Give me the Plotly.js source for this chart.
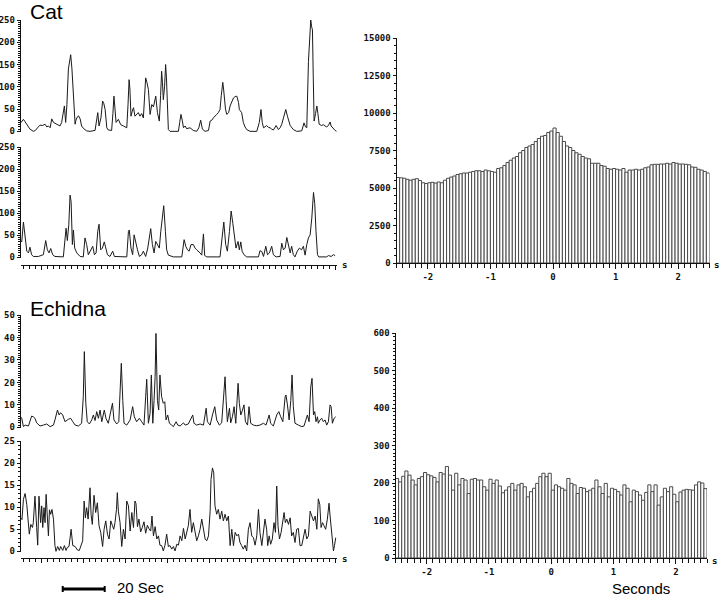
<!DOCTYPE html>
<html><head><meta charset="utf-8">
<script src="https://cdn.plot.ly/plotly-3.0.1.min.js"></script>
<style>html,body{margin:0;padding:0;background:#fff}#chart{width:720px;height:596px}</style>
</head><body><div id="chart"></div>
<script>
// ---------- DATA ----------
// Time series: time in seconds, value in spikes/bin
const catTopT = [0,0.6,1.3,2,2.9,3.6,4.4,6,7,8.4,9.2,10.4,11.6,12.4,13.2,14,14.8,15.6,16.6,17.9,18.7,19.5,20.3,20.8,21.4,22,22.7,23.3,23.8,24.4,25.1,25.9,26.3,26.7,27.5,28.3,29,30,31.4,33,35.4,36.2,36.7,37.3,38.2,39,39.6,40.2,41,41.7,43.3,43.9,44.4,44.9,45.4,46.5,47.6,48.9,50.5,51.1,51.6,52,52.5,53.1,53.7,54.4,55.2,56,56.8,57.6,58.4,59,59.5,60.1,60.8,61.6,62.4,63.2,64.3,65.1,66,66.6,67.1,67.5,67.9,68.5,69,69.4,69.8,70.3,71.1,75.1,75.7,76.3,76.9,77.5,78.3,79,80.6,82.2,83.8,84.8,85.7,86.5,87.8,89.4,90.2,91,91.7,92.5,93.3,94.1,94.9,95.5,96.2,96.6,97,97.5,98.1,99,99.7,100.5,101.3,102.1,102.9,103.7,104.1,105.2,106,106.8,107.6,109.2,112.4,113.6,114.4,115,115.6,116.3,117.1,117.9,118.7,119.5,120.3,121.6,122.7,123.5,124.3,125.1,126.2,127,127.7,128.3,129.8,131.4,133.8,134.9,135.6,136.2,137,137.6,138.1,138.5,138.9,139.3,139.7,140.4,141,141.5,142.1,143.3,144.1,144.9,145.7,146.5,147.3,147.8,148.4,149,149.7,150.4];
const catTopV = [19,24,27,22,16,12,5,0,2,10,14,13,16,10,12,8,28,20,17,15,12,20,45,57,20,60,140,165,172,140,71,16,25,30,35,28,12,6,1,0,2,30,42,12,30,68,62,49,8,3,2,40,79,50,20,27,15,12,8,60,116,95,34,45,53,34,38,42,34,40,30,80,120,110,94,38,60,55,79,42,23,80,135,110,71,100,150,120,40,4,0,0,20,38,25,8,12,6,8,2,0,8,25,5,0,2,23,25,30,35,38,42,49,80,110,95,70,50,38,42,57,68,75,78,79,65,49,42,20,10,4,0,0,20,49,20,8,10,13,9,8,5,3,13,4,8,16,30,49,34,25,13,4,0,1,19,10,8,157,215,250,235,228,120,23,40,57,40,16,13,15,12,10,13,21,12,8,5,2,0];

const catBotT = [0,0.5,1.3,2.1,2.9,3.7,4.4,5.2,6,8.4,10.8,11.9,12.7,13.5,14.3,15.2,16.3,20.3,21.1,21.6,22.2,22.9,23.5,24,24.6,25.1,25.7,26.7,28.3,29.8,30.6,31.4,32.2,33.3,34.3,35.1,35.9,36.7,37.3,38.1,38.9,39.8,40.6,41.3,42.5,43.8,44.6,50.5,51.3,51.7,52.5,53.3,54,54.6,55.6,56.5,57.6,58.4,59.5,60.5,61.3,61.9,62.7,63.5,64.3,65.1,66,66.7,67.5,68.1,68.9,69.5,70.3,72.7,76.7,77.1,77.8,78.6,79.4,80.2,81.1,82.2,83,83.8,84.6,85.4,86.2,87,87.6,88.6,94.9,95.7,96.7,97.6,98.4,99.4,100.2,101,101.9,102.5,103.5,104.1,104.8,105.4,106.3,107.6,113.2,113.9,114.8,115.6,116.7,117.5,118.4,119.5,120.3,121.6,123.5,124.3,125.1,125.9,126.7,127.5,128.3,129,129.8,130.6,131.7,132.7,133.7,134.6,135.4,136.2,137,137.8,138.6,139.4,140,140.6,141.3,141.9,145.7,146.5,147.8,148.9,149.7];
const catBotV = [38,35,80,51,14,10,23,6,2,2,6,38,17,10,20,6,2,1,47,66,38,74,141,126,29,62,21,10,2,1,44,29,6,17,25,6,10,59,75,17,21,35,17,6,2,14,2,1,59,62,21,6,51,36,17,2,6,14,2,21,44,65,29,10,36,29,21,59,96,117,59,17,5,1,1,21,40,25,17,14,29,29,21,17,14,10,5,53,4,1,1,36,80,29,14,59,105,77,44,21,36,17,35,14,6,1,1,15,13,2,25,6,10,25,6,1,2,32,17,21,45,29,10,25,6,1,14,21,17,25,5,29,44,51,89,147,122,59,6,1,1,4,2,6,4];

const echTopT = [0,0.5,1.3,2.1,3.7,5.2,6,6.8,7.6,9.2,10.8,12.4,14,15.6,16.3,17.5,18.3,19,20,21.1,22.7,23.8,24.8,25.9,27.5,29,29.8,30.3,31,31.7,32.7,33.8,34.6,35.4,36.2,37,37.8,38.6,39.8,40.6,41.7,42.5,43.7,44.4,45.7,46.7,47.3,47.9,48.6,49.2,50.5,52.1,53.3,54.1,55.2,56.5,57.6,58.7,59.5,60,60.8,61.6,62.2,62.9,63.5,64,64.4,65.1,65.7,66.3,67.1,67.9,68.6,69.2,70,70.8,71.9,72.7,74,74.8,75.9,77.5,78.3,79.8,81.9,82.5,83.8,85.4,87,88.3,88.9,90.2,91.3,92.4,93.3,94.6,95.7,96.8,97.3,97.8,98.4,99.4,100,100.8,101.6,102.4,103.2,103.5,104.1,104.8,105.6,106.3,107,108,108.7,109.5,110.8,112.4,113.9,115.6,116.8,118.3,119,120.3,121.9,122.9,123.8,124.8,125.9,126.3,127,127.8,128.6,129.2,129.8,130.6,132.2,133.8,134.9,135.9,136.5,137.3,138.1,138.7,139.4,140,140.6,141.3,141.7,142.5,143.3,144.1,144.9,145.7,146.5,147.3,147.8,148.4,149.2,150];
const echTopV = [4.7,4,0.3,1,0.6,5,4.7,4,2,0.6,1,1.5,0.3,1,3.3,7.7,5.5,6.5,5.5,2.5,3.6,4,2.5,1,0.6,1.8,13.6,33.7,10.7,2.5,1.5,3.3,5.5,3,7,4,7.7,2.5,7.7,4,1.8,5.5,10.7,3.3,1.5,2.5,13.6,28.5,12,1.8,1,3.3,9.2,4.7,2.5,4,2.5,1,13.6,21.4,1.8,6.2,23.3,1.8,12,22.5,41.8,12,7.7,23.3,13.6,10.7,11.4,3.3,5.5,1.8,1,0.3,2.5,1,0.6,2,1,1.5,5.5,1.8,1,1.5,1,8.5,2.5,1,5.5,9.2,3.3,1,2,16.6,22.5,12,2.5,8.5,2,4.7,9.2,1.8,18.8,19.6,10.7,5.5,7.7,10,2.5,1,9.2,1.8,1,0.7,1,1.8,1,5.5,1.8,0.6,5.5,7,4.7,2.5,13.6,14.4,10,3.3,12,23.3,9.2,1.8,1,0.3,0.6,3.3,5.5,2.5,18,21.8,5.5,7,2.5,4.7,1.8,3.3,4,2.5,3.3,1,2.5,10,9.2,1.8,4,4.7];

const echBotT = [0,0.6,1.3,2.1,2.9,3.7,4.1,4.8,5.6,6,6.8,7.6,8.1,8.7,9.5,10,10.5,11.1,11.6,12.1,12.7,13.2,13.7,14.3,14.9,15.6,16.3,16.8,17.6,18.4,19,20,20.8,21.6,22.2,23,24,24.8,25.9,27,27.9,28.7,29.5,30.2,30.8,31.4,32.1,33,33.5,34.1,34.9,35.7,36.5,37.3,38.1,39,39.7,40.5,41.3,42.1,42.9,43.7,44.3,44.9,45.6,46,46.5,47.3,48.1,48.9,49.7,50.5,51.3,52.1,52.9,53.7,54.4,54.9,55.6,56.3,57.1,57.9,58.7,59.5,60.3,61.1,61.9,62.5,63.2,64,64.8,65.6,66.3,67.1,67.9,68.7,69.5,70.3,71.1,71.9,72.7,73.5,74.3,75.1,75.9,76.7,77.5,78.3,79,79.8,80.6,81.4,82.2,83,83.8,84.6,85.4,86.2,87,87.8,88.6,89.4,90.2,90.6,91.3,91.9,92.5,93.3,94.1,94.9,95.7,96.5,97.3,98.1,98.9,99.7,100.5,101.3,102.1,102.9,103.7,104.4,105.2,106,106.8,107.6,108.4,109.2,110,110.8,111.6,112.4,113.2,113.9,114.8,115.6,116.3,117.1,117.6,118.3,119,119.8,120.6,121.3,121.9,122.5,123.2,124,124.8,125.4,126,126.7,127.5,128.3,129,129.8,130.6,131.4,132.2,133,133.8,134.6,135.4,136.2,137,137.8,138.6,139.4,140.2,141,141.7,142.4,143,143.7,144.4,145.2,146,146.8,147.3,148.1,148.9,149.4,150];
const echBotV = [7.6,7.2,11.8,13.1,10.6,5.8,3.9,6.1,5.4,6.5,12.5,5.4,1.4,12.5,6.5,10.3,5.4,9.9,6.5,12.9,8.8,3.5,9.4,8.4,9.5,7.3,1.3,0,1.1,0.2,1.1,0.2,1.3,0.2,0.9,1.1,5,1.3,1.1,0.3,0.2,1.3,2.4,11.4,7.6,9.9,7.3,14.4,8.4,6.1,12.7,8.8,11,5.8,4.3,1.1,5,6.9,3.9,2.8,6.9,5.8,5,6.5,9.5,13.3,9.1,6.5,1.1,5,2.8,11.4,10.3,4.6,8.8,5.4,11.4,10.8,5.6,7.3,4.4,5.4,6.7,4.1,5.9,5.1,4.6,8,3.5,5.6,2.8,3.5,1.4,1.3,0.1,1.4,3.9,1.1,1.3,0.5,1.1,0.1,1.6,1.4,3.5,2.4,5.2,2.8,4.3,5.8,9.5,4.3,6.5,3.9,2.4,3.5,5,7.3,5.4,2.8,2.4,3.5,9.1,16.3,18.9,17.8,10.3,8.4,9.5,7.3,9.1,6.9,8.4,6.9,8,1.3,5,1.3,4.3,3.5,3.9,2,1.3,0.5,1.4,0.1,5,6.5,3.5,3.1,1.4,3.5,9.5,4.3,1.3,5.4,7.3,5,1.3,3.5,1.6,2.8,6.5,4.3,14.8,5.8,2.8,4.3,6.5,8.8,6.5,7.3,6.1,7.6,3.5,4.3,2,5,5.2,1.3,1.3,3.1,5,2.8,3.5,9.1,8,6.9,8,5,11.9,10.6,5.4,6.5,5.8,5,7.3,10.9,8,3.5,0.1,1.3,3.1];

// Cross-correlation histograms: 100 bins of 0.05 s from -2.5 s
const binStart = -2.5;
const binWidth = 0.05;
const catHist = [5700,5680,5650,5580,5520,5580,5620,5500,5350,5300,
5350,5380,5330,5400,5350,5520,5650,5730,5800,5900,
5950,6000,6000,6050,6100,6150,6150,6100,6200,6150,
6100,6050,6300,6350,6500,6700,6850,7000,7100,7350,
7500,7700,7800,7900,8100,8300,8450,8500,8700,8800,
9000,8700,8450,8100,7800,7700,7500,7350,7250,7100,
7000,6950,6650,6650,6650,6500,6450,6300,6250,6300,
6250,6200,6300,6050,6200,6200,6250,6200,6250,6350,
6400,6550,6580,6580,6600,6600,6650,6600,6700,6650,
6600,6600,6580,6550,6400,6380,6250,6200,6100,6000];
const echHist = [212,203,218,232,221,208,195,212,217,228,
222,219,215,203,228,224,244,221,181,226,
195,212,208,172,210,212,208,208,190,181,
210,199,208,192,174,181,190,199,181,195,
199,190,163,177,186,199,217,226,217,226,
181,195,190,186,181,212,199,195,172,188,
186,177,181,186,208,190,172,199,163,186,
183,177,168,195,186,150,181,177,168,154,
175,195,177,195,141,163,186,177,190,170,
150,176,181,183,182,181,195,203,200,185];

const histTickVals = [-2,-1,0,1,2];
const histTickText = ['-2','-1','0','1','2'];
const scaleStart = 20, scaleLen = 20;   // 20 s scale bar

// ---------- LAYOUT ----------
const W = 720, H = 596;
const dx = (a,b) => [a/W, b/W];
const dy = (top,bottom) => [1-bottom/H, 1-top/H];
const py = v => 1 - v/H;

const binCenters = catHist.map((_,i) => binStart + binWidth*(i+0.5));
const ink = '#111';
const tickfont = {family:'DejaVu Sans Mono', size:9, color:ink, weight:'bold'};
const lineStyle = {color:'#1a1a1a', width:1};
const barMarker = {color:'#ffffff', line:{color:'#4a4a4a', width:1}};

const traces = [
  {x:catTopT, y:catTopV, xaxis:'x', yaxis:'y', type:'scatter', mode:'lines', line:lineStyle},
  {x:catBotT, y:catBotV, xaxis:'x2', yaxis:'y2', type:'scatter', mode:'lines', line:lineStyle},
  {x:binCenters, y:catHist, xaxis:'x3', yaxis:'y3', type:'bar', width:binWidth, marker:barMarker},
  {x:echTopT, y:echTopV, xaxis:'x4', yaxis:'y4', type:'scatter', mode:'lines', line:lineStyle},
  {x:echBotT, y:echBotV, xaxis:'x5', yaxis:'y5', type:'scatter', mode:'lines', line:lineStyle},
  {x:binCenters, y:echHist, xaxis:'x6', yaxis:'y6', type:'bar', width:binWidth, marker:barMarker}
];

const tsDomain = dx(20.7, 336.8);
const tsRange = [0, 150.5];
function yAx(domain, range, dtick, minor, anchor){
  return {domain, range, anchor, showline:true, linecolor:ink, linewidth:1,
    ticks:'outside', ticklen:3, tickcolor:ink, tick0:0, dtick, tickformat:'d',
    tickfont, showgrid:false, zeroline:false, fixedrange:true,
    minor:{ticks:'outside', tick0:0, dtick:minor, ticklen:2, tickcolor:ink, showgrid:false}};
}
function tsHidden(anchor){
  return {domain:tsDomain, range:tsRange, anchor, visible:false, fixedrange:true};
}
function tsAxis(pos){
  return {domain:tsDomain, range:tsRange, anchor:'free', position:pos, showline:true,
    linecolor:ink, linewidth:1, ticks:'outside', ticklen:4, tickcolor:ink,
    tick0:10, dtick:20, showticklabels:false, showgrid:false, zeroline:false, fixedrange:true,
    minor:{ticks:'outside', tick0:10, dtick:20/7, ticklen:3, tickcolor:ink, showgrid:false}};
}
function histX(domain, anchor){
  return {domain, range:[-2.5,2.5], anchor, showline:true, linecolor:ink, linewidth:1,
    ticks:'outside', ticklen:5, tickcolor:ink, tickmode:'array', tickvals:histTickVals,
    ticktext:histTickText, tickfont, showgrid:false, zeroline:false, fixedrange:true,
    minor:{ticks:'outside', tickmode:'linear', tick0:0, dtick:0.1, ticklen:4, tickcolor:ink, showgrid:false}};
}

const ann = (text, x, y, xanchor, font) => ({text, x, y, xref:'paper', yref:'paper',
  xanchor, yanchor:'middle', showarrow:false, font});
const titleFont = {family:'Liberation Sans', size:21, color:'#000'};
const labelFont = {family:'Liberation Sans', size:15, color:'#000'};
const sFont = {family:'DejaVu Sans Mono', size:9, color:ink, weight:'bold'};

const layout = {
  width:W, height:H, margin:{l:0,r:0,t:0,b:0},
  paper_bgcolor:'#fff', plot_bgcolor:'rgba(0,0,0,0)', showlegend:false, bargap:0,
  xaxis: tsHidden('y'),
  yaxis: yAx(dy(20,132), [-1.5,250], 50, 5, 'x'),
  xaxis2: tsAxis(py(264.5)),
  yaxis2: yAx(dy(147,258), [-1.5,250], 50, 5, 'x2'),
  xaxis3: histX(dx(396.5,709.5), 'y3'),
  yaxis3: yAx(dy(38,263), [0,15000], 2500, 500, 'x3'),
  xaxis4: tsHidden('y4'),
  yaxis4: yAx(dy(315,428), [-0.3,50], 10, 1, 'x4'),
  xaxis5: tsAxis(py(557.5)),
  yaxis5: yAx(dy(441,552), [-0.15,25], 5, 1, 'x5'),
  xaxis6: histX(dx(395.5,707), 'y6'),
  yaxis6: yAx(dy(333,558), [0,600], 100, 10, 'x6'),
  annotations:[
    ann('Cat', 28/W, py(12), 'left', titleFont),
    ann('Echidna', 28/W, py(308), 'left', titleFont),
    ann('s', 340/W, py(265), 'left', sFont),
    ann('s', 340/W, py(559), 'left', sFont),
    ann('s', 712/W, py(265), 'left', sFont),
    ann('s', 710/W, py(561), 'left', sFont),
    ann('20 Sec', 115/W, py(587), 'left', labelFont),
    ann('Seconds', 641/W, py(588), 'center', labelFont)
  ],
  shapes:[
    {type:'line', xref:'x5', yref:'paper', x0:scaleStart, x1:scaleStart+scaleLen, y0:py(589), y1:py(589), line:{color:'#000', width:3}},
    {type:'line', xref:'x5', yref:'paper', x0:scaleStart, x1:scaleStart, y0:py(586), y1:py(592), line:{color:'#000', width:2}},
    {type:'line', xref:'x5', yref:'paper', x0:scaleStart+scaleLen, x1:scaleStart+scaleLen, y0:py(586), y1:py(592), line:{color:'#000', width:2}}
  ]
};

Plotly.newPlot('chart', traces, layout, {staticPlot:true, displayModeBar:false});
</script>
</body></html>
